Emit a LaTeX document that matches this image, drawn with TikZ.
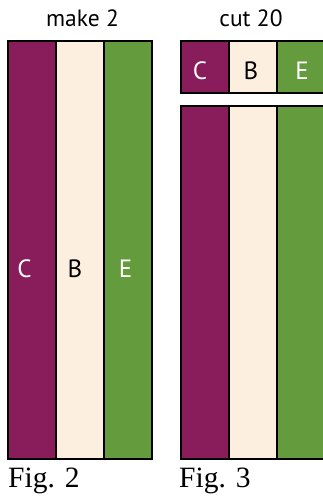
\documentclass[tikz,border=0pt]{standalone}
\usepackage{fontspec}
\setmainfont{Liberation Serif}
\setsansfont{PT Sans}
\usetikzlibrary{positioning}
\definecolor{plum}{RGB}{137,28,91}
\definecolor{cream}{RGB}{253,239,224}
\definecolor{leaf}{RGB}{99,155,61}
\begin{document}
\begin{tikzpicture}[x=1pt, y=-1pt,
    colbox/.style={draw=black, line width=1.6pt, rectangle, anchor=north west, inner sep=0pt, outer sep=0pt, minimum width=48pt},
    tag/.style={inner sep=0pt, font=\sffamily\fontsize{25}{29}\selectfont},
    heading/.style={anchor=base, inner sep=0pt, font=\sffamily\fontsize{23.5}{27}\selectfont},
    caption/.style={anchor=base west, inner sep=0pt, font=\rmfamily\fontsize{29.5}{33}\selectfont}]
    \useasboundingbox (0,0) rectangle (323,498);
    \clip (0,0) rectangle (323,498);
    % Fig. 2 (make 2)
    \node[heading] (make) at (82.5,26.5) {make 2};
    \node[colbox, fill=plum, minimum height=418pt] (c2) at (8,41) {};
    \node[colbox, fill=cream, minimum height=418pt] (b2) at (56,41) {};
    \node[colbox, fill=leaf, minimum height=418pt] (e2) at (104,41) {};
    \node[tag, text=white] (c2lab) at (24.5,268.5) {C};
    \node[tag] (b2lab) at (75,268.5) {B};
    \node[tag, text=white] (e2lab) at (125.5,268.5) {E};
    \node[caption] (fig2) at (8,487) {Fig. 2};
    % Fig. 3 (cut 20)
    \node[heading] (cut) at (251,26) {cut 20};
    \node[colbox, fill=plum, minimum height=52pt] (c3) at (181,41) {};
    \node[colbox, fill=cream, minimum height=52pt] (b3) at (229,41) {};
    \node[colbox, fill=leaf, minimum height=52pt, minimum width=54pt] (e3) at (277,41) {};
    \node[tag, text=white] (c3lab) at (200,70.5) {C};
    \node[tag] (b3lab) at (251,70.5) {B};
    \node[tag, text=white] (e3lab) at (302,70.5) {E};
    \node[colbox, fill=plum, minimum height=353pt] (c3b) at (181,106) {};
    \node[colbox, fill=cream, minimum height=353pt] (b3b) at (229,106) {};
    \node[colbox, fill=leaf, minimum height=353pt, minimum width=54pt] (e3b) at (277,106) {};
    \node[caption] (fig3) at (179,487) {Fig. 3};
\end{tikzpicture}
\end{document}
